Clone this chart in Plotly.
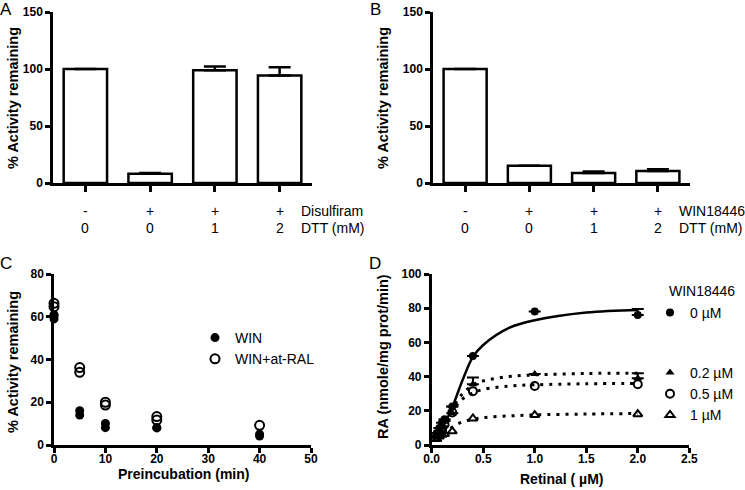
import plotly.graph_objects as go

W, H = 745, 490
FONT = "Liberation Sans, Arial, sans-serif"

# ---------------- data ----------------
# Panel A
A_values = [100, 8.2, 99, 94.4]
A_err = [0, 0.6, 3.2, 7.1]
A_row1 = ["-", "+", "+", "+"]
A_row2 = ["0", "0", "1", "2"]
A_row_names = ["Disulfiram", "DTT (mM)"]

# Panel B
B_values = [100, 15.2, 8.8, 10.5]
B_err = [0, 0, 1.2, 1.5]
B_row1 = ["-", "+", "+", "+"]
B_row2 = ["0", "0", "1", "2"]
B_row_names = ["WIN18446", "DTT (mM)"]

# Panel C
C_win_x = [0, 0, 0, 5, 5, 10, 10, 20, 20, 40, 40]
C_win_y = [60.4, 59, 61, 16, 14, 10.1, 8.1, 8.1, 8.0, 5.1, 4.2]
C_ral_x = [0, 0, 5, 5, 10, 10, 20, 20, 40]
C_ral_y = [66.3, 64.7, 36.2, 34, 20, 18.7, 13.3, 11.7, 9.2]
C_names = ["WIN", "WIN+at-RAL"]

# Panel D
D_x = [0.05, 0.075, 0.1, 0.125, 0.2, 0.4, 1.0, 2.0]
D_0 = [7, 10, 13, 15, 22.5, 52, 78, 76]
D_0_err = [None, None, None, None, None, None, None, 3.5]
D_02 = [5, 8, 11, 14, 18.5, 35.5, 41.5, 39]
D_02_err = [None, None, None, None, 4, 4, None, 3]
D_05 = [5, 7, 9, 12, 19, 31.5, 34.5, 35.5]
D_1 = [3.5, 5, 6, 6.5, 8, 15.5, 17.5, 18]
D_names = ["0 µM", "0.2 µM", "0.5 µM", "1 µM"]
D_legend_title = "WIN18446"

# fitted curves
curve_x = [0.05, 0.1, 0.15, 0.2, 0.3, 0.4, 0.5, 0.75, 1.0, 1.5, 2.0]
curve_0 = [6, 10.5, 15.5, 22, 38, 51.5, 58.5, 68.5, 73, 77.5, 79]
curve_02 = [6, 11, 16, 21.5, 30, 35, 37.5, 40, 41, 41.8, 42]
curve_05 = [5, 10, 15, 20, 27, 30.5, 32.5, 34.5, 35.2, 35.8, 36]
curve_1 = [3, 5.5, 8, 10.5, 13.5, 15, 16, 17, 17.6, 18.1, 18.4]


def px(x):
    return x / W


def py(y):
    return 1 - y / H


fig = go.Figure()

bar_style = dict(marker=dict(color="white", line=dict(color="black", width=2.5)),
                 width=0.67, showlegend=False)

fig.add_trace(go.Bar(x=list(range(len(A_values))), y=A_values,
                     error_y=dict(type="data", array=A_err, arrayminus=[0] * 4,
                                  symmetric=False, color="black", thickness=2.5, width=11),
                     xaxis="x", yaxis="y", **bar_style))
fig.add_trace(go.Bar(x=list(range(len(B_values))), y=B_values,
                     error_y=dict(type="data", array=B_err, arrayminus=[0] * 4,
                                  symmetric=False, color="black", thickness=2.5, width=11),
                     xaxis="x2", yaxis="y2", **bar_style))

# Panel C
fig.add_trace(go.Scatter(x=C_win_x, y=C_win_y, mode="markers", name=C_names[0],
                         marker=dict(symbol="circle", size=9, color="black"),
                         cliponaxis=False, xaxis="x3", yaxis="y3", legend="legend"))
fig.add_trace(go.Scatter(x=C_ral_x, y=C_ral_y, mode="markers", name=C_names[1],
                         marker=dict(symbol="circle-open", size=9, color="black",
                                     line=dict(width=2, color="black")),
                         cliponaxis=False, xaxis="x3", yaxis="y3", legend="legend"))

# Panel D curves
fig.add_trace(go.Scatter(x=curve_x, y=curve_0, mode="lines", line=dict(color="black", width=2.5, shape="spline"),
                         showlegend=False, xaxis="x4", yaxis="y4"))
for cy in (curve_02, curve_05, curve_1):
    fig.add_trace(go.Scatter(x=curve_x, y=cy, mode="lines",
                             line=dict(color="black", width=3, dash="3px,6px", shape="spline"),
                             showlegend=False, xaxis="x4", yaxis="y4"))


def err(arr):
    return dict(type="data", array=arr, symmetric=False, arrayminus=[None] * len(arr),
                color="black", thickness=2, width=6)


fig.add_trace(go.Scatter(x=D_x, y=D_0, mode="markers", name=D_names[0],
                         marker=dict(symbol="circle", size=8, color="black"),
                         error_y=err(D_0_err), cliponaxis=False,
                         xaxis="x4", yaxis="y4", legend="legend2"))
fig.add_trace(go.Scatter(x=D_x, y=D_02, mode="markers", name=D_names[1],
                         marker=dict(symbol="triangle-up", size=8, color="black"),
                         error_y=err(D_02_err), cliponaxis=False,
                         xaxis="x4", yaxis="y4", legend="legend3"))
fig.add_trace(go.Scatter(x=D_x, y=D_05, mode="markers", name=D_names[2],
                         marker=dict(symbol="circle-open", size=8, color="black",
                                     line=dict(width=2, color="black")),
                         cliponaxis=False, xaxis="x4", yaxis="y4", legend="legend3"))
fig.add_trace(go.Scatter(x=D_x, y=D_1, mode="markers", name=D_names[3],
                         marker=dict(symbol="triangle-up-open", size=8, color="black",
                                     line=dict(width=2, color="black")),
                         cliponaxis=False, xaxis="x4", yaxis="y4", legend="legend3"))

axis_common = dict(showline=True, linecolor="black", linewidth=2.5, ticks="outside",
                   ticklen=5, tickwidth=2.5, tickcolor="black", showgrid=False, zeroline=False,
                   tickfont=dict(family=FONT, size=12, color="black", weight="bold"),
                   fixedrange=True, automargin=False)
bar_x_common = dict(axis_common, ticklen=6)

domA_x = [px(53), px(312)]
domB_x = [px(433), px(690)]
domC_x = [px(54), px(311)]
domD_x = [px(431.7), px(689.3)]
dom_top = [py(183), py(12)]
dom_bot = [py(445), py(274)]

fig.update_layout(
    width=W, height=H, margin=dict(l=0, r=0, t=0, b=0, autoexpand=False),
    paper_bgcolor="white", plot_bgcolor="white",
    font=dict(family=FONT, color="black"),
    hovermode=False,
    xaxis=dict(domain=domA_x, anchor="y", range=[-0.5, 3.5], tickvals=[0, 1, 2, 3],
               showticklabels=False, **bar_x_common),
    yaxis=dict(domain=dom_top, anchor="x", range=[0, 150], tickvals=[0, 50, 100, 150], **axis_common),
    xaxis2=dict(domain=domB_x, anchor="y2", range=[-0.5, 3.5], tickvals=[0, 1, 2, 3],
                showticklabels=False, **bar_x_common),
    yaxis2=dict(domain=dom_top, anchor="x2", range=[0, 150], tickvals=[0, 50, 100, 150], **axis_common),
    xaxis3=dict(domain=domC_x, anchor="y3", range=[0, 50], tickvals=[0, 10, 20, 30, 40, 50],
                ticklabelstandoff=-4, **axis_common),
    yaxis3=dict(domain=dom_bot, anchor="x3", range=[0, 80], tickvals=[0, 20, 40, 60, 80], **axis_common),
    xaxis4=dict(domain=domD_x, anchor="y4", range=[0, 2.5], tickvals=[0, 0.5, 1, 1.5, 2, 2.5],
                tickformat=".1f", ticklabelstandoff=-4, **axis_common),
    yaxis4=dict(domain=dom_bot, anchor="x4", range=[0, 100], tickvals=[0, 20, 40, 60, 80, 100], **axis_common),
    legend=dict(x=px(195), y=py(322), xanchor="left", yanchor="top", bgcolor="rgba(0,0,0,0)",
                font=dict(family=FONT, size=14, color="black"), tracegroupgap=0),
    legend2=dict(x=px(650), y=py(297), xanchor="left", yanchor="top", bgcolor="rgba(0,0,0,0)",
                 font=dict(family=FONT, size=14, color="black")),
    legend3=dict(x=px(650), y=py(357), xanchor="left", yanchor="top", bgcolor="rgba(0,0,0,0)",
                 font=dict(family=FONT, size=14, color="black"), tracegroupgap=0),
    bargap=0.33,
)

ann = []
# panel letters
for letter, (lx, ly) in zip("ABCD", [(6, 9), (375, 9), (6, 263), (375, 263)]):
    ann.append(dict(text=letter, x=px(lx), y=py(ly), xref="paper", yref="paper", showarrow=False,
                    xanchor="center", yanchor="middle", font=dict(size=17, family=FONT)))

# y titles
for t, (tx, ty) in [("% Activity remaining", (13, 98)), ("% Activity remaining", (383, 98)),
                    ("% Activity remaining", (13, 362)), ("RA (nmole/mg prot/min)", (383, 357))]:
    ann.append(dict(text="<b>" + t + "</b>", x=px(tx), y=py(ty), xref="paper", yref="paper",
                    showarrow=False, textangle=-90, xanchor="center", yanchor="middle",
                    font=dict(size=14.5, family=FONT)))
# x titles
ann.append(dict(text="<b>Preincubation (min)</b>", x=px(183), y=py(474), xref="paper", yref="paper",
                showarrow=False, xanchor="center", yanchor="middle", font=dict(size=14, family=FONT)))
ann.append(dict(text="<b>Retinal ( µM)</b>", x=px(562), y=py(479), xref="paper", yref="paper",
                showarrow=False, xanchor="center", yanchor="middle", font=dict(size=14, family=FONT)))

# category rows for A and B
for xref, row1, row2, names, lab_x in [("x", A_row1, A_row2, A_row_names, 299),
                                        ("x2", B_row1, B_row2, B_row_names, 677)]:
    for i, (r1, r2) in enumerate(zip(row1, row2)):
        ann.append(dict(text=r1, x=i, y=py(211), xref=xref, yref="paper", showarrow=False,
                        xanchor="center", yanchor="middle", font=dict(size=14, family=FONT)))
        ann.append(dict(text=r2, x=i, y=py(228), xref=xref, yref="paper", showarrow=False,
                        xanchor="center", yanchor="middle", font=dict(size=14, family=FONT)))
    for name, yy in zip(names, [211, 228]):
        ann.append(dict(text=name, x=px(lab_x), y=py(yy), xref="paper", yref="paper", showarrow=False,
                        xanchor="left", yanchor="middle", font=dict(size=14, family=FONT)))

ann.append(dict(text=D_legend_title, x=px(667), y=py(291), xref="paper", yref="paper", showarrow=False,
                xanchor="left", yanchor="middle", font=dict(size=14, family=FONT)))

fig.update_layout(annotations=ann)
# remove the browser's default 8px body margin so the figure fills the window exactly
fig.write_html("out.html", config={"displayModeBar": False},
               post_script="document.body.style.margin='0';")
